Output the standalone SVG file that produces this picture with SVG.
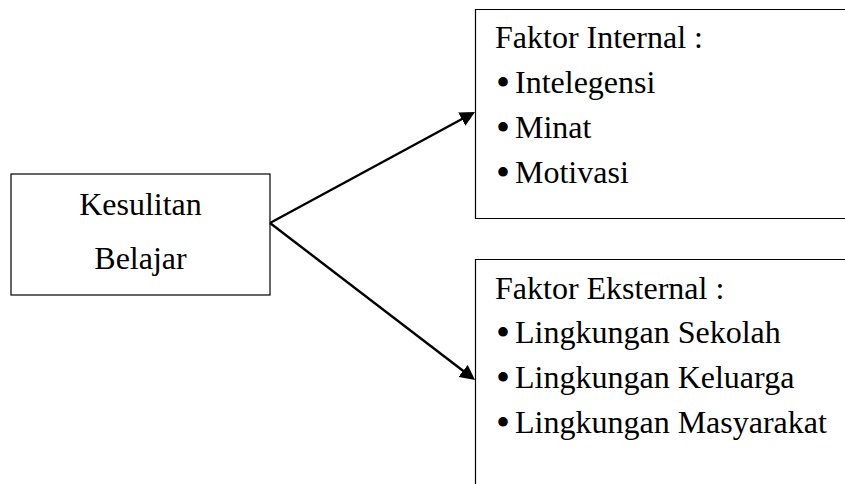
<svg xmlns="http://www.w3.org/2000/svg" width="845" height="484" viewBox="0 0 845 484">
<defs>
<style>
.box{fill:#fff;stroke:#000;stroke-width:1.2}
.t{font-family:"Liberation Serif","Times New Roman",serif;font-size:32px;fill:#000}
.b{font-family:"Liberation Serif","Times New Roman",serif;font-size:40px;fill:#000}
.conn{stroke:#000;stroke-width:2.4;fill:none}
</style>
<marker id="ah" markerUnits="userSpaceOnUse" markerWidth="15" markerHeight="15" refX="6" refY="7.5" orient="auto">
<path d="M0,0 L15,7.5 L0,15 z" fill="#000"/>
</marker>
</defs>
<rect width="845" height="484" fill="#fff"/>
<g id="node-kesulitan">
<rect class="box" x="11" y="174" width="259" height="121"/>
<text class="t" x="140.5" y="215" text-anchor="middle">Kesulitan</text>
<text class="t" x="140.5" y="269" text-anchor="middle">Belajar</text>
</g>
<g id="node-internal">
<path class="box" d="M850,9.5 H475.5 V218.5 H850"/>
<text class="t" x="495" y="48">Faktor Internal :</text>
<text class="b" x="496" y="96">•</text><text class="t" x="515" y="93">Intelegensi</text>
<text class="b" x="496" y="140.5">•</text><text class="t" x="515" y="137.5">Minat</text>
<text class="b" x="496" y="185.5">•</text><text class="t" x="515" y="182.5">Motivasi</text>
</g>
<g id="node-eksternal">
<path class="box" d="M850,259.5 H475.5 V490"/>
<text class="t" x="495" y="299">Faktor Eksternal :</text>
<text class="b" x="496" y="346">•</text><text class="t" x="515" y="343">Lingkungan Sekolah</text>
<text class="b" x="496" y="390.5">•</text><text class="t" x="515" y="387.5">Lingkungan Keluarga</text>
<text class="b" x="496" y="435.5">•</text><text class="t" x="515" y="432.5">Lingkungan Masyarakat</text>
</g>
<g id="connectors">
<line class="conn" x1="270" y1="223" x2="467.1" y2="116.3" marker-end="url(#ah)"/>
<line class="conn" x1="270" y1="223" x2="467.9" y2="374.5" marker-end="url(#ah)"/>
</g>
</svg>
